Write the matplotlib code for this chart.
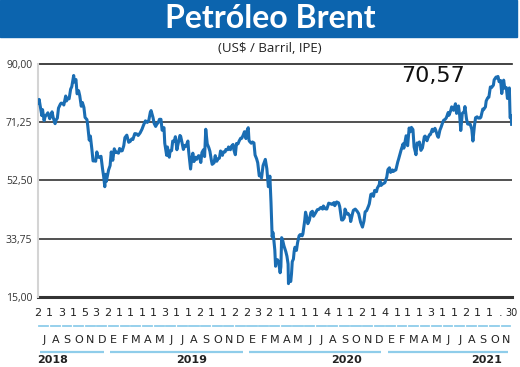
import pandas as pd
import matplotlib
matplotlib.use("Agg")
import matplotlib.pyplot as plt
from matplotlib.patches import Rectangle

# ---- data (Brent, US$/barrel) ----
dates = [
    "2018-07-02", "2018-07-04", "2018-07-06", "2018-07-11", "2018-07-13", "2018-07-17", "2018-07-20",
    "2018-07-25", "2018-07-27", "2018-08-01", "2018-08-03", "2018-08-07", "2018-08-10", "2018-08-15",
    "2018-08-17", "2018-08-21", "2018-08-24", "2018-08-29", "2018-08-31", "2018-09-05", "2018-09-07",
    "2018-09-12", "2018-09-14", "2018-09-18", "2018-09-21", "2018-09-25", "2018-09-28", "2018-10-03",
    "2018-10-05", "2018-10-09", "2018-10-12", "2018-10-16", "2018-10-19", "2018-10-23", "2018-10-26",
    "2018-10-30", "2018-11-02", "2018-11-07", "2018-11-09", "2018-11-13", "2018-11-16", "2018-11-20",
    "2018-11-23", "2018-11-28", "2018-11-30", "2018-12-03", "2018-12-06", "2018-12-10", "2018-12-14",
    "2018-12-18", "2018-12-21", "2018-12-24", "2018-12-26", "2018-12-28",
    "2019-01-03", "2019-01-07", "2019-01-10", "2019-01-14", "2019-01-18", "2019-01-22", "2019-01-25",
    "2019-01-29", "2019-02-01", "2019-02-05", "2019-02-08", "2019-02-12", "2019-02-15", "2019-02-20",
    "2019-02-25", "2019-03-01", "2019-03-05", "2019-03-08", "2019-03-13", "2019-03-18", "2019-03-22",
    "2019-03-27", "2019-04-01", "2019-04-05", "2019-04-10", "2019-04-15", "2019-04-19", "2019-04-23",
    "2019-04-25", "2019-04-30", "2019-05-03", "2019-05-07", "2019-05-10", "2019-05-14", "2019-05-17",
    "2019-05-21", "2019-05-24", "2019-05-29", "2019-05-31", "2019-06-05", "2019-06-07", "2019-06-12",
    "2019-06-14", "2019-06-18", "2019-06-21", "2019-06-25", "2019-06-28", "2019-07-02", "2019-07-05",
    "2019-07-10", "2019-07-12", "2019-07-16", "2019-07-19", "2019-07-23", "2019-07-26", "2019-07-31",
    "2019-08-02", "2019-08-07", "2019-08-09", "2019-08-13", "2019-08-16", "2019-08-20", "2019-08-23",
    "2019-08-28", "2019-08-30", "2019-09-03", "2019-09-06", "2019-09-10", "2019-09-13", "2019-09-16",
    "2019-09-20", "2019-09-24", "2019-09-27", "2019-10-01", "2019-10-03", "2019-10-08", "2019-10-11",
    "2019-10-15", "2019-10-18", "2019-10-22", "2019-10-25", "2019-10-30", "2019-11-01", "2019-11-06",
    "2019-11-08", "2019-11-13", "2019-11-15", "2019-11-20", "2019-11-22", "2019-11-27", "2019-11-29",
    "2019-12-03", "2019-12-06", "2019-12-10", "2019-12-13", "2019-12-17", "2019-12-20", "2019-12-24",
    "2019-12-27", "2019-12-31",
    "2020-01-03", "2020-01-06", "2020-01-08", "2020-01-10", "2020-01-14", "2020-01-17", "2020-01-21",
    "2020-01-24", "2020-01-28", "2020-01-31", "2020-02-04", "2020-02-07", "2020-02-10", "2020-02-14",
    "2020-02-20", "2020-02-24", "2020-02-28", "2020-03-03", "2020-03-06", "2020-03-09", "2020-03-11",
    "2020-03-13", "2020-03-16", "2020-03-18", "2020-03-20", "2020-03-23", "2020-03-26", "2020-03-30",
    "2020-04-01", "2020-04-02", "2020-04-03", "2020-04-06", "2020-04-09", "2020-04-14", "2020-04-17",
    "2020-04-20", "2020-04-21", "2020-04-23", "2020-04-27", "2020-04-29", "2020-05-01", "2020-05-04",
    "2020-05-06", "2020-05-08", "2020-05-12", "2020-05-15", "2020-05-19", "2020-05-22", "2020-05-27",
    "2020-05-29", "2020-06-03", "2020-06-05", "2020-06-08", "2020-06-11", "2020-06-15", "2020-06-19",
    "2020-06-23", "2020-06-26", "2020-07-01", "2020-07-06", "2020-07-10", "2020-07-15", "2020-07-20",
    "2020-07-22", "2020-07-27", "2020-07-31", "2020-08-05", "2020-08-10", "2020-08-14", "2020-08-19",
    "2020-08-21", "2020-08-26", "2020-08-31", "2020-09-03", "2020-09-08", "2020-09-11", "2020-09-15",
    "2020-09-17", "2020-09-22", "2020-09-25", "2020-09-30", "2020-10-02", "2020-10-07", "2020-10-09",
    "2020-10-14", "2020-10-19", "2020-10-23", "2020-10-28", "2020-11-02", "2020-11-06", "2020-11-09",
    "2020-11-13", "2020-11-18", "2020-11-20", "2020-11-24", "2020-11-27", "2020-12-01", "2020-12-04",
    "2020-12-09", "2020-12-11", "2020-12-16", "2020-12-18", "2020-12-21", "2020-12-24", "2020-12-31",
    "2021-01-05", "2021-01-08", "2021-01-12", "2021-01-15", "2021-01-20", "2021-01-22", "2021-01-27",
    "2021-01-29", "2021-02-03", "2021-02-05", "2021-02-10", "2021-02-12", "2021-02-17", "2021-02-19",
    "2021-02-25", "2021-03-01", "2021-03-05", "2021-03-08", "2021-03-11", "2021-03-15", "2021-03-18",
    "2021-03-23", "2021-03-26", "2021-03-30", "2021-04-01", "2021-04-05", "2021-04-09", "2021-04-14",
    "2021-04-16", "2021-04-21", "2021-04-23", "2021-04-28", "2021-04-30", "2021-05-05", "2021-05-07",
    "2021-05-12", "2021-05-14", "2021-05-19", "2021-05-21", "2021-05-25", "2021-05-28", "2021-06-02",
    "2021-06-04", "2021-06-08", "2021-06-11", "2021-06-16", "2021-06-18", "2021-06-23", "2021-06-25",
    "2021-06-30", "2021-07-05", "2021-07-08", "2021-07-13", "2021-07-16", "2021-07-19", "2021-07-23",
    "2021-07-28", "2021-07-30", "2021-08-03", "2021-08-06", "2021-08-10", "2021-08-13", "2021-08-17",
    "2021-08-20", "2021-08-24", "2021-08-27", "2021-08-31", "2021-09-03", "2021-09-08", "2021-09-10",
    "2021-09-15", "2021-09-17", "2021-09-22", "2021-09-24", "2021-09-28", "2021-10-01", "2021-10-05",
    "2021-10-08", "2021-10-13", "2021-10-15", "2021-10-20", "2021-10-22", "2021-10-25", "2021-10-28",
    "2021-11-01", "2021-11-04", "2021-11-09", "2021-11-12", "2021-11-16", "2021-11-19", "2021-11-24",
    "2021-11-26", "2021-11-29", "2021-11-30",
]
prices = [
    77.3, 78.6, 77.1, 73.4, 75.3, 71.8, 73.1,
    73.9, 74.3, 72.4, 73.2, 74.6, 72.8, 70.8,
    71.8, 72.6, 75.8, 77.1, 77.4, 77.3, 76.8,
    79.7, 78.1, 79.0, 78.8, 81.9, 82.7, 86.3,
    84.2, 85.0, 80.4, 81.4, 79.8, 76.4, 77.6,
    76.0, 72.8, 72.1, 70.2, 65.5, 66.8, 62.5,
    58.8, 58.8, 58.7, 61.7, 60.1, 59.9, 60.3,
    56.3, 53.8, 50.5, 54.5, 52.2,
    55.9, 57.3, 61.7, 59.0, 62.7, 61.5, 61.6,
    61.3, 62.8, 62.0, 62.1, 63.7, 66.3, 67.1,
    64.8, 65.1, 65.9, 65.7, 67.6, 67.5, 67.0,
    67.8, 69.0, 70.3, 71.7, 71.2, 71.9, 74.5,
    75.0, 72.8, 70.9, 69.9, 70.6, 71.2, 72.2,
    72.2, 68.7, 69.5, 64.5, 60.6, 63.3, 60.0,
    62.0, 62.1, 65.2, 65.1, 66.6, 62.4, 64.2,
    67.0, 66.7, 64.4, 62.5, 63.8, 63.5, 65.2,
    61.9, 56.2, 58.5, 61.3, 58.6, 60.0, 59.3,
    60.5, 60.4, 58.3, 61.5, 62.4, 60.2, 69.0,
    64.3, 63.1, 61.9, 58.9, 57.7, 58.2, 60.5,
    58.7, 59.4, 59.7, 62.0, 60.6, 61.7, 61.7,
    62.5, 62.4, 63.3, 62.4, 63.4, 64.1, 62.4,
    60.8, 64.4, 64.3, 65.2, 66.1, 66.1, 67.2,
    68.2, 66.0,
    68.6, 69.5, 65.4, 65.0, 64.5, 64.9, 64.6,
    60.7, 59.5, 58.2, 54.0, 54.5, 53.3, 57.3,
    59.3, 56.3, 50.5, 53.9, 45.3, 34.4, 35.8,
    33.9, 30.1, 24.9, 27.0, 27.0, 26.3, 22.8,
    24.7, 29.9, 34.1, 33.1, 31.5, 29.6, 28.1,
    25.6, 19.3, 21.3, 20.0, 22.5, 26.4, 27.2,
    29.7, 31.0, 30.0, 32.5, 34.7, 35.1, 34.7,
    35.3, 39.8, 42.3, 40.8, 38.6, 39.7, 42.2,
    42.6, 41.0, 42.0, 43.1, 43.2, 43.8, 43.3,
    44.3, 43.4, 43.3, 45.2, 45.0, 44.8, 45.4,
    44.4, 45.6, 45.3, 44.1, 39.8, 39.8, 40.5,
    43.3, 41.7, 41.9, 41.0, 39.3, 42.0, 42.9,
    43.3, 42.6, 41.8, 39.1, 37.5, 39.5, 42.4,
    42.8, 44.3, 45.0, 48.0, 48.2, 47.4, 49.3,
    48.9, 50.0, 51.1, 52.3, 50.9, 51.3, 51.8,
    53.6, 56.0, 56.6, 55.1, 55.9, 55.4, 55.8,
    55.9, 58.5, 59.3, 61.5, 62.4, 64.3, 62.9,
    66.9, 63.7, 69.4, 68.2, 69.6, 68.9, 63.3,
    60.8, 64.6, 64.1, 64.9, 62.2, 63.0, 66.6,
    66.8, 65.3, 66.1, 67.3, 67.3, 69.0, 68.3,
    69.3, 68.7, 66.7, 66.4, 68.7, 69.6, 71.4,
    71.9, 72.2, 72.7, 74.4, 73.5, 75.2, 76.2,
    75.1, 77.2, 74.1, 76.5, 73.6, 68.6, 74.1,
    74.7, 76.3, 72.4, 70.7, 70.6, 70.6, 69.0,
    65.2, 70.1, 72.7, 73.0, 72.6, 72.6, 72.9,
    75.5, 75.3, 76.2, 78.1, 79.1, 79.3, 82.6,
    82.4, 83.2, 84.9, 85.8, 85.5, 86.0, 84.3,
    84.7, 80.5, 84.8, 82.2, 82.4, 78.9, 82.3,
    72.7, 73.4, 70.57,
]

y_ticks = [15.00, 33.75, 52.50, 71.25, 90.00]
# first quoted day of each month (Jul 2018 .. Nov 2021), then the last day
month_days = ["2", "1", "3", "1", "5", "3", "2", "1", "1", "1", "1", "3", "1", "1", "2", "1", "1", "2",
              "2", "3", "2", "1", "1", "1", "1", "4", "1", "1", "2", "1", "4", "1", "1", "1", "3", "1",
              "1", "2", "1", "1", "."]
last_day = "30"
month_letters = ["J", "A", "S", "O", "N", "D",
                 "E", "F", "M", "A", "M", "J", "J", "A", "S", "O", "N", "D",
                 "E", "F", "M", "A", "M", "J", "J", "A", "S", "O", "N", "D",
                 "E", "F", "M", "A", "M", "J", "J", "A", "S", "O", "N"]
years = ["2018", "2019", "2020", "2021"]
last_value = "70,57"

# ---- figure ----
W, H = 520, 367
fig = plt.figure(figsize=(W / 100, H / 100), dpi=100)
BLUE = "#0c64ae"
LINE = "#1a6db3"
LIGHT = "#8fcdea"
narrow = ["Liberation Sans Narrow", "DejaVu Sans"]

fig.patches.append(Rectangle((0, 1 - 37 / H), 517 / W, 37 / H, transform=fig.transFigure,
                             color=BLUE, zorder=0))
fig.text(270 / W, 1 - 19 / H, "Petróleo Brent", color="white", fontsize=23,
         fontweight="bold", family="Lato", ha="center", va="center")
fig.text(270 / W, 1 - 48 / H, "(US$ / Barril, IPE)", color="#222222", fontsize=9.5,
         family="Open Sans", ha="center", va="center")

ax = fig.add_axes([38 / W, 1 - 297 / H, 474 / W, 233 / H])
x = pd.to_datetime(dates)
start = pd.Timestamp("2018-07-01")
end = pd.Timestamp("2021-12-01")
ax.set_xlim(start, end)
ax.set_ylim(15, 90)

for v in y_ticks[1:-1]:
    ax.axhline(v, color="#222222", lw=1.1, zorder=1)
ax.axhline(90, color="#222222", lw=1.2, zorder=1, clip_on=False)
ax.axhline(15, color="#333333", lw=2.2, zorder=1, clip_on=False)

ax.plot(x, prices, color=LINE, lw=2.2, zorder=3, solid_joinstyle="round")

for s in ["top", "right", "bottom"]:
    ax.spines[s].set_visible(False)
ax.spines["left"].set_color("#d4d4d4")
ax.spines["left"].set_linewidth(1.5)

ax.set_yticks(y_ticks)
ax.set_yticklabels([f"{v:.2f}".replace(".", ",") for v in y_ticks],
                   fontsize=7.5, color="#333333", family="Open Sans")
ax.tick_params(axis="y", length=0, pad=4)
ax.set_xticks([])

ax.text(0.833, 0.948, last_value, transform=ax.transAxes, fontsize=16,
        family="DejaVu Sans", ha="center", va="center", color="#111111")

# ---- bottom date rows ----
tr = ax.get_xaxis_transform()
month_starts = pd.date_range(start, periods=len(month_letters), freq="MS")
for d, lab in zip(month_starts, month_days):
    ax.text(d, -0.068, lab, transform=tr, ha="center", va="center", fontsize=8,
            family=narrow, color="#222222", clip_on=False)
ax.text(end - pd.Timedelta(days=1), -0.068, last_day, transform=tr, ha="center", va="center",
        fontsize=7, family=narrow, color="#222222", clip_on=False)

for d, lab in zip(month_starts, month_letters):
    d_end = d + pd.offsets.MonthBegin(1)
    mid = d + (d_end - d) / 2
    ax.plot([d + pd.Timedelta(days=3), d_end - pd.Timedelta(days=4)], [-0.125, -0.125],
            transform=tr, color=LIGHT, lw=1.3, clip_on=False)
    ax.text(mid, -0.185, lab, transform=tr, ha="center", va="center", fontsize=8,
            family=narrow, color="#222222", clip_on=False)

for yr in years:
    y0 = max(pd.Timestamp(f"{yr}-01-01"), start)
    y1 = min(pd.Timestamp(f"{int(yr) + 1}-01-01"), end)
    ax.plot([y0 + pd.Timedelta(days=6), y1 - pd.Timedelta(days=10)], [-0.236, -0.236],
            transform=tr, color=LIGHT, lw=1.6, clip_on=False, solid_capstyle="butt")

fig.text(37 / W, 1 - 360 / H, years[0], fontsize=8, fontweight="bold", ha="left", va="center",
         family=narrow, color="#222222")
fig.text(192 / W, 1 - 360 / H, years[1], fontsize=8, fontweight="bold", ha="center", va="center",
         family=narrow, color="#222222")
fig.text(346 / W, 1 - 360 / H, years[2], fontsize=8, fontweight="bold", ha="center", va="center",
         family=narrow, color="#222222")
fig.text(487 / W, 1 - 360 / H, years[3], fontsize=8, fontweight="bold", ha="center", va="center",
         family=narrow, color="#222222")

fig.savefig("out.png", dpi=100)
